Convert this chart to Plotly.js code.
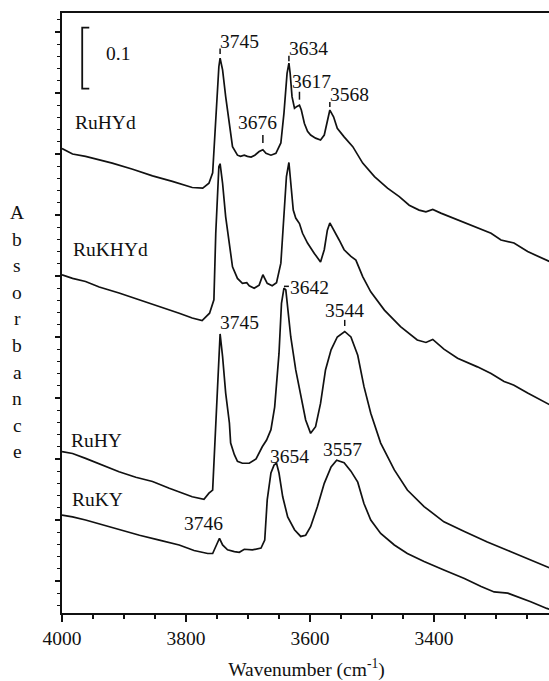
<!DOCTYPE html>
<html>
<head>
<meta charset="utf-8">
<script src="https://cdn.plot.ly/plotly-3.0.1.min.js"></script>
<style>
  html, body { margin: 0; padding: 0; overflow: hidden; background: #fff; }
</style>
</head>
<body>
<div id="chart"></div>
<script>
// IR spectra of the hydroxyl stretching region (wavenumber in cm-1, stacked absorbance)
const ruhydWn = [4000,3983,3962,3940,3919,3886,3854,3822,3790,3773,3763,3757,3754,3750,3747,3745,3741,3736,3730,3725,3717,3712,3706,3701,3695,3689,3682,3676,3671,3663,3655,3647,3642,3637,3634,3632,3629,3625,3621,3617,3614,3609,3604,3599,3591,3583,3577,3572,3568,3562,3556,3545,3531,3515,3496,3475,3456,3440,3424,3413,3402,3389,3370,3341,3308,3292,3271,3249,3218,3210];
const ruhydAbs = [0.709,0.700,0.696,0.691,0.685,0.675,0.664,0.655,0.645,0.644,0.652,0.669,0.723,0.789,0.843,0.857,0.838,0.794,0.745,0.712,0.698,0.696,0.698,0.696,0.695,0.698,0.704,0.707,0.701,0.698,0.701,0.718,0.767,0.832,0.849,0.832,0.794,0.775,0.778,0.780,0.772,0.750,0.737,0.731,0.726,0.723,0.731,0.756,0.772,0.761,0.742,0.728,0.712,0.685,0.663,0.644,0.630,0.616,0.608,0.605,0.609,0.603,0.595,0.584,0.570,0.559,0.554,0.540,0.526,0.522];

const rukhydWn = [4000,3983,3962,3940,3908,3875,3843,3811,3790,3774,3762,3755,3752,3749,3747,3745,3741,3736,3730,3725,3717,3709,3702,3698,3690,3682,3676,3669,3661,3654,3647,3642,3638,3634,3631,3627,3623,3617,3612,3604,3593,3583,3577,3572,3568,3561,3553,3545,3534,3526,3515,3502,3480,3454,3427,3413,3402,3384,3362,3330,3308,3287,3271,3249,3218,3210];
const rukhydAbs = [0.502,0.496,0.491,0.482,0.472,0.461,0.450,0.439,0.431,0.427,0.439,0.461,0.570,0.641,0.679,0.684,0.652,0.597,0.548,0.515,0.496,0.488,0.489,0.484,0.480,0.485,0.502,0.488,0.484,0.489,0.521,0.597,0.663,0.686,0.652,0.608,0.595,0.586,0.570,0.554,0.537,0.523,0.543,0.575,0.587,0.575,0.559,0.543,0.532,0.526,0.499,0.474,0.444,0.417,0.395,0.391,0.396,0.380,0.365,0.351,0.340,0.327,0.321,0.308,0.291,0.287];

const ruhyWn = [4000,3983,3962,3935,3908,3881,3854,3827,3790,3771,3763,3757,3754,3750,3748,3745,3741,3736,3730,3728,3722,3717,3709,3698,3687,3677,3670,3663,3657,3650,3646,3642,3639,3636,3631,3623,3615,3607,3599,3591,3583,3575,3566,3556,3544,3534,3523,3513,3502,3486,3464,3443,3416,3384,3351,3314,3276,3244,3218,3210];
const ruhyAbs = [0.212,0.209,0.201,0.190,0.179,0.170,0.163,0.152,0.138,0.134,0.144,0.149,0.215,0.291,0.346,0.405,0.368,0.308,0.259,0.226,0.207,0.196,0.193,0.193,0.200,0.220,0.231,0.248,0.285,0.373,0.455,0.480,0.477,0.450,0.400,0.346,0.302,0.264,0.242,0.253,0.291,0.346,0.379,0.400,0.409,0.400,0.370,0.319,0.275,0.226,0.182,0.149,0.122,0.097,0.081,0.064,0.048,0.034,0.023,0.020];

const rukyWn = [4000,3983,3962,3935,3908,3875,3843,3811,3787,3765,3757,3752,3746,3741,3733,3722,3714,3706,3693,3679,3673,3669,3663,3658,3654,3650,3644,3636,3625,3615,3607,3599,3588,3577,3566,3557,3545,3534,3523,3513,3502,3486,3464,3443,3416,3384,3351,3324,3303,3281,3265,3244,3218,3210];
const rukyAbs = [0.108,0.105,0.100,0.092,0.084,0.075,0.067,0.059,0.050,0.045,0.045,0.056,0.070,0.059,0.051,0.048,0.047,0.052,0.051,0.054,0.067,0.133,0.177,0.190,0.193,0.177,0.138,0.105,0.084,0.073,0.075,0.089,0.122,0.160,0.187,0.198,0.194,0.180,0.162,0.127,0.100,0.078,0.059,0.045,0.032,0.018,0.004,-0.009,-0.018,-0.020,-0.026,-0.034,-0.045,-0.048];

const seriesNames = ['RuHYd', 'RuKHYd', 'RuHY', 'RuKY'];
const seriesWn = [ruhydWn, rukhydWn, ruhyWn, rukyWn];
const seriesAbs = [ruhydAbs, rukhydAbs, ruhyAbs, rukyAbs];

// band positions marked on the spectra (cm-1)
const peakLabels = [3745, 3676, 3634, 3617, 3568, 3642, 3544, 3745, 3654, 3557, 3746];

const xTickValues = [4000, 3800, 3600, 3400];
const scaleBarValue = 0.1;

const FONT = 'Liberation Serif, Times New Roman, Times, serif';
const FS = 19.5;
const INK = '#111';

const traces = seriesNames.map((name, i) => ({
  type: 'scatter',
  mode: 'lines',
  name: name,
  x: seriesWn[i],
  y: seriesAbs[i],
  line: { color: INK, width: 1.7, shape: 'linear' },
  hoverinfo: 'skip',
  showlegend: false
}));

// where each band label sits, and the small marker drawn above the band
const labelPlacement = [
  { tx: 3713, ty: 0.884, tick: [0.864, 0.873] },
  { tx: 3684, ty: 0.751, tick: [0.718, 0.731] },
  { tx: 3603, ty: 0.873, tick: [0.852, 0.861] },
  { tx: 3598, ty: 0.819, tick: [0.789, 0.802] },
  { tx: 3536, ty: 0.798, tick: [0.777, 0.785] },
  { tx: 3601.5, ty: 0.481, flat: [3634, 0.483] },
  { tx: 3545, ty: 0.444, tick: [0.418, 0.428] },
  { tx: 3714, ty: 0.423 },
  { tx: 3633, ty: 0.204 },
  { tx: 3548, ty: 0.216 },
  { tx: 3772, ty: 0.095 }
];
const namePlacement = [
  { tx: 3930, ty: 0.751 },
  { tx: 3922, ty: 0.543 },
  { tx: 3944, ty: 0.230 },
  { tx: 3943, ty: 0.134 }
];

const annotations = [];
const shapes = [];

peakLabels.forEach((wn, i) => {
  const p = labelPlacement[i];
  annotations.push({
    x: p.tx, y: p.ty, xref: 'x', yref: 'y',
    text: String(wn), showarrow: false,
    xanchor: 'center', yanchor: 'middle',
    font: { family: FONT, size: FS, color: INK }
  });
  if (p.tick) {
    shapes.push({
      type: 'line', xref: 'x', yref: 'y',
      x0: wn, x1: wn, y0: p.tick[0], y1: p.tick[1],
      line: { color: INK, width: 1.5 }
    });
  }
  if (p.flat) {
    shapes.push({
      type: 'line', xref: 'x', yref: 'y',
      x0: wn, x1: p.flat[0], y0: p.flat[1], y1: p.flat[1],
      line: { color: INK, width: 1.5 }
    });
  }
});

seriesNames.forEach((name, i) => {
  annotations.push({
    x: namePlacement[i].tx, y: namePlacement[i].ty, xref: 'x', yref: 'y',
    text: name, showarrow: false, xanchor: 'center', yanchor: 'middle',
    font: { family: FONT, size: FS, color: INK }
  });
});

// vertical stacked y-axis caption
'Absorbance'.split('').forEach((ch, k) => {
  annotations.push({
    x: 0, xref: 'paper', xshift: -44.7, xanchor: 'center',
    y: 0.604 - k * 0.0436, yref: 'y', yanchor: 'middle',
    text: ch, showarrow: false,
    font: { family: FONT, size: FS, color: INK }
  });
});

// absorbance scale bar
const barX = 3967.4, barTop = 0.907, barSerif = 3956;
shapes.push({
  type: 'path', xref: 'x', yref: 'y',
  path: `M ${barSerif},${barTop} L ${barX},${barTop} L ${barX},${barTop - scaleBarValue} L ${barSerif},${barTop - scaleBarValue}`,
  line: { color: INK, width: 1.8 }
});
annotations.push({
  x: 3909, y: 0.864, xref: 'x', yref: 'y',
  text: String(scaleBarValue), showarrow: false,
  xanchor: 'center', yanchor: 'middle',
  font: { family: FONT, size: FS, color: INK }
});

const layout = {
  width: 551,
  height: 681,
  margin: { l: 62, r: 0, t: 13, b: 68 },
  paper_bgcolor: '#fff',
  plot_bgcolor: '#fff',
  font: { family: FONT, size: FS, color: INK },
  showlegend: false,
  xaxis: {
    range: [4000, 3211.3],
    tickmode: 'array',
    tickvals: xTickValues,
    ticktext: xTickValues.map(String),
    ticks: 'outside', ticklen: 7, tickwidth: 1.5, tickcolor: INK,
    minor: { dtick: 50, ticks: 'outside', ticklen: 4, tickwidth: 1.3, tickcolor: INK },
    showline: true, linecolor: INK, linewidth: 1.6, mirror: true,
    showgrid: false, zeroline: false,
    tickfont: { family: FONT, size: FS, color: INK },
    title: { text: 'Wavenumber (cm<sup>-1</sup>)', font: { family: FONT, size: FS, color: INK }, standoff: 16 }
  },
  yaxis: {
    range: [-0.0525, 0.9311],
    tick0: 0, dtick: 0.1,
    ticks: 'outside', ticklen: 5, tickwidth: 1.5, tickcolor: INK,
    minor: { dtick: 0.02, ticks: 'outside', ticklen: 3, tickwidth: 1.3, tickcolor: INK },
    showticklabels: false,
    showline: true, linecolor: INK, linewidth: 1.6, mirror: true,
    showgrid: false, zeroline: false
  },
  annotations: annotations,
  shapes: shapes
};

Plotly.newPlot('chart', traces, layout, { displayModeBar: false, staticPlot: true });
</script>
</body>
</html>
